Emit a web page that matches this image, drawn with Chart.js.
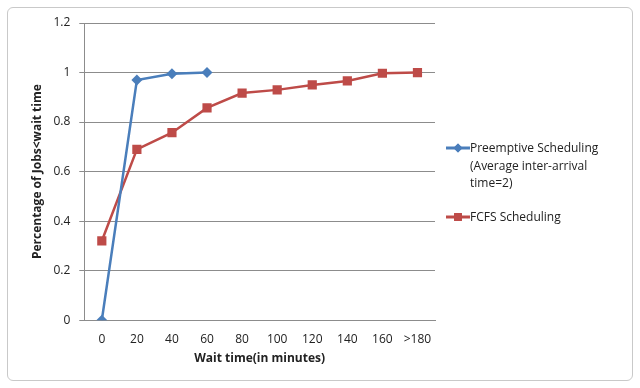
<!DOCTYPE html>
<html>
<head>
<meta charset="utf-8">
<script src="https://cdn.jsdelivr.net/npm/chart.js@4.4.1/dist/chart.umd.min.js"></script>
<style>
  body { margin: 0; background: #fff; font-family: "Open Sans", sans-serif; }
  #wrap { position: relative; width: 640px; height: 388px; }
  #frame { position: absolute; left: 7px; top: 7px; width: 624px; height: 372px;
           border: 1px solid #c9c9c9; border-radius: 6px; }
  #chart { position: absolute; left: 0; top: 0; }
  #legend { position: absolute; left: 446px; top: 139px; font-size: 12px; color: #222; }
  .item { display: flex; align-items: flex-start; margin-bottom: 16px; }
  .key { width: 24px; height: 18px; flex: none; }
  .txt { line-height: 17.5px; }
</style>
</head>
<body>
<div id="wrap">
  <div id="frame"></div>
  <canvas id="chart" width="640" height="388"></canvas>
  <div id="legend"></div>
</div>
<script>
// jshint esversion: 6

const wait_labels = ['0', '20', '40', '60', '80', '100', '120', '140', '160', '>180'];
const preemptive = [0, 0.97, 0.995, 1.0];
const fcfs = [0.32, 0.69, 0.757, 0.857, 0.917, 0.93, 0.95, 0.966, 0.997, 1.0];

const blue = '#4a7ebb';
const red = '#be4b48';

const series = [
    { label: ['Preemptive Scheduling', '(Average inter-arrival', 'time=2)'],
      data: preemptive, color: blue, style: 'rectRot', radius: 5.5 },
    { label: ['FCFS Scheduling'], data: fcfs, color: red, style: 'rect', radius: 6.5 }
];

const ctx = document.getElementById('chart').getContext('2d');
let myChart = new Chart(ctx, {
    type: 'line',
    data: {
        labels: wait_labels,
        datasets: series.map(s => ({
            label: s.label.join(' '),
            data: s.data,
            borderColor: s.color,
            backgroundColor: s.color,
            borderWidth: 2.5,
            pointStyle: s.style,
            pointRadius: s.radius,
            pointHoverRadius: s.radius,
            pointBorderWidth: 0,
            tension: 0
        }))
    },
    options: {
        responsive: false,
        animation: false,
        layout: { padding: { left: 30, right: 205, top: 23, bottom: 22 } },
        plugins: {
            legend: { display: false },
            tooltip: { enabled: false }
        },
        scales: {
            x: {
                offset: true,
                grid: { display: false },
                border: { display: true, color: '#8c8c8c' },
                ticks: { color: '#222', font: { family: 'Open Sans', size: 12 }, padding: 4, maxRotation: 0 },
                title: { display: true, text: 'Wait time(in minutes)', color: '#222',
                         font: { family: 'Open Sans', size: 12, weight: 'bold' }, padding: { top: 1, bottom: 0 } }
            },
            y: {
                min: 0,
                max: 1.2,
                ticks: { stepSize: 0.2, color: '#222', font: { family: 'Open Sans', size: 12 }, padding: 9,
                         callback: v => String(Number(v.toFixed(1))) },
                grid: { color: '#8c8c8c', tickLength: 5 },
                border: { display: true, color: '#8c8c8c' },
                title: { display: true, text: 'Percentage of Jobs<wait time', color: '#222',
                         font: { family: 'Open Sans', size: 12, weight: 'bold' }, padding: { top: 0, bottom: 0 } }
            }
        }
    }
});

// legend in the Excel style: a short line with the marker on it, text that wraps
const legend = document.getElementById('legend');
series.forEach(s => {
    let item = document.createElement('div');
    item.className = 'item';
    let key = document.createElement('canvas');
    key.className = 'key';
    key.width = 24; key.height = 18;
    let k = key.getContext('2d');
    k.strokeStyle = s.color;
    k.lineWidth = 3;
    k.beginPath(); k.moveTo(0, 9); k.lineTo(24, 9); k.stroke();
    k.fillStyle = s.color;
    Chart.helpers.drawPoint(k, { pointStyle: s.style, radius: s.radius - 1, borderWidth: 0 }, 12, 9);
    k.fill();
    let txt = document.createElement('div');
    txt.className = 'txt';
    txt.innerHTML = s.label.join('<br>');
    item.appendChild(key);
    item.appendChild(txt);
    legend.appendChild(item);
});
</script>
</body>
</html>
